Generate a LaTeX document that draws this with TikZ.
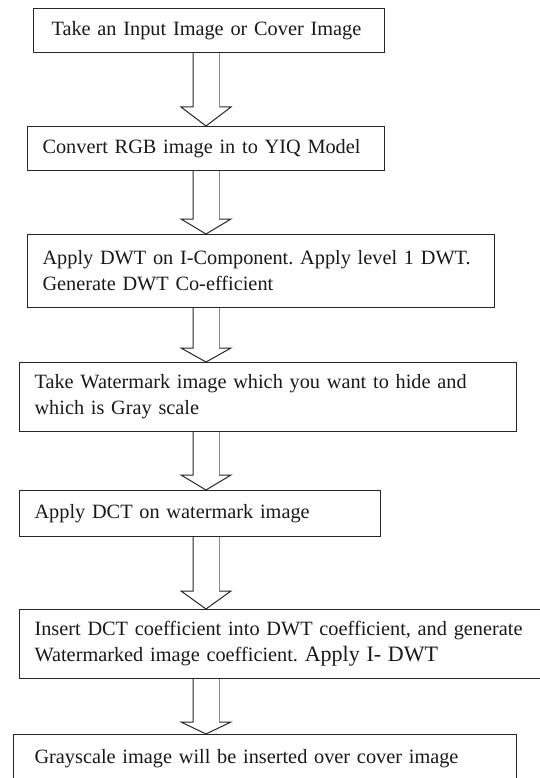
\documentclass[tikz,border=0pt]{standalone}
\usepackage{fontspec}
\setmainfont{Liberation Serif}
\usetikzlibrary{calc}
\frenchspacing
\tikzset{
  box/.style={draw=black!85, line width=1.1pt, rectangle, anchor=north west,
    inner ysep=0pt, align=left, font=\fontsize{20.3}{26}\selectfont, text=black!90},
  arrowline/.style={draw=black!85, line width=1pt, line join=miter},
  shaftgrey/.style={draw=black!45, line width=1pt},
}
\newcommand\fatarrow[3]{%
  \draw[arrowline] let \p1=(#1.south), \p2=(#2.north) in
    (193pt,\y1) -- (193pt,\y2+#3) -- (181pt,\y2+#3) -- (206pt,\y2)
    -- (231pt,\y2+#3) -- (219pt,\y2+#3);
  \draw[shaftgrey] let \p1=(#1.south), \p2=(#2.north) in
    (219pt,\y2+#3) -- (219pt,\y1);}
\begin{document}
\begin{tikzpicture}[x=1pt,y=-1pt]
\useasboundingbox (0,0) rectangle (539,778);
\node[box, inner xsep=18pt, text width=315pt, minimum height=44pt] (b1) at (33,8)
  {\mbox{Take an Input Image or Cover Image}};
\node[box, inner xsep=15pt, text width=327pt, minimum height=44pt] (b2) at (27,126)
  {\mbox{Convert RGB image in to YIQ Model}};
\node[box, inner xsep=15pt, text width=437pt, minimum height=73pt] (b3) at (27,234)
  {\mbox{Apply DWT on I-Component. Apply level 1 DWT.}\\\mbox{Generate DWT Co-efficient}};
\node[box, inner xsep=15pt, text width=467pt, minimum height=69pt] (b4) at (19,362)
  {\mbox{Take Watermark image which you want to hide and}\\\mbox{which is Gray scale}};
\node[box, inner xsep=15pt, text width=331pt, minimum height=46pt] (b5) at (19,490)
  {\mbox{Apply DCT on watermark image}};
\node[box, inner xsep=15pt, text width=511pt, minimum height=69pt] (b6) at (19,609)
  {\mbox{Insert DCT coefficient into DWT coefficient, and generate}\\\mbox{Watermarked image coefficient. {\fontsize{22}{26}\selectfont Apply I- DWT}}};
\node[box, inner xsep=21pt, text width=461pt, minimum height=48pt] (b7) at (13,734)
  {\mbox{Grayscale image will be inserted over cover image}};
\fatarrow{b1}{b2}{19pt}
\fatarrow{b2}{b3}{15pt}
\fatarrow{b3}{b4}{14pt}
\fatarrow{b4}{b5}{15pt}
\fatarrow{b5}{b6}{18pt}
\fatarrow{b6}{b7}{12pt}
\end{tikzpicture}
\end{document}
